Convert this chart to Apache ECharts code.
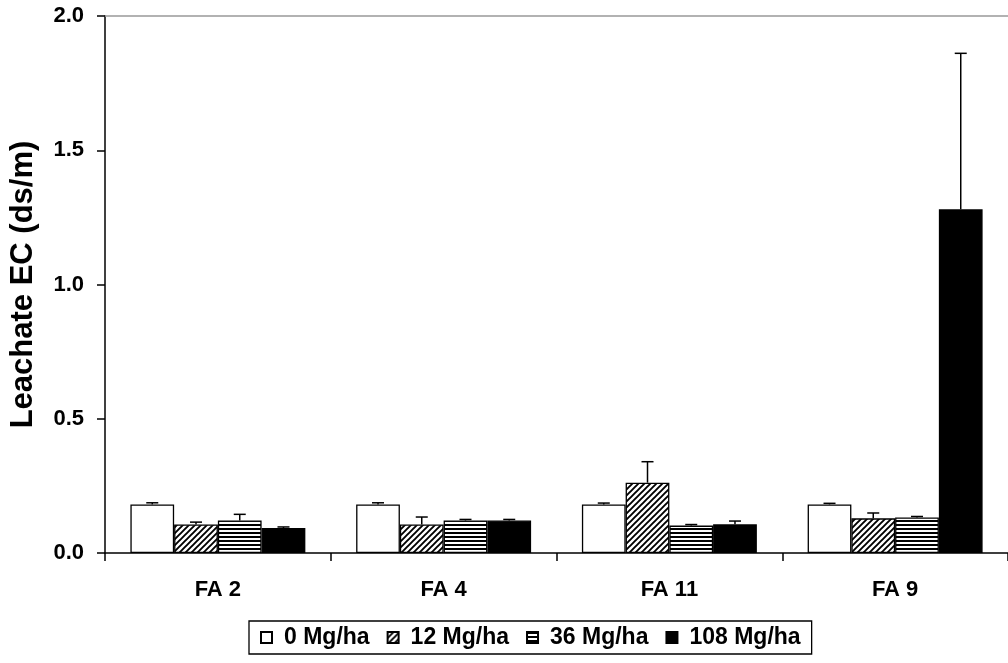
<!DOCTYPE html>
<html>
<head>
<meta charset="utf-8">
<script src="https://cdn.jsdelivr.net/npm/echarts@6/dist/echarts.min.js"></script>
<style>
  html, body { margin: 0; padding: 0; background: #fff; }
  #chart { width: 1008px; height: 663px; }
</style>
</head>
<body>
<div id="chart"></div>
<script>
// ========== data ==========
const categories = ['FA 2', 'FA 4', 'FA 11', 'FA 9']
const seriesNames = ['0 Mg/ha', '12 Mg/ha', '36 Mg/ha', '108 Mg/ha']

const rate0 = [0.181, 0.181, 0.181, 0.181]
const rate12 = [0.106, 0.106, 0.262, 0.129]
const rate36 = [0.121, 0.121, 0.102, 0.132]
const rate108 = [0.093, 0.121, 0.107, 1.28]

// upper error (standard error), only the plus side is drawn
const err0 = [0.006, 0.006, 0.005, 0.004]
const err12 = [0.009, 0.028, 0.078, 0.02]
const err36 = [0.023, 0.004, 0.004, 0.004]
const err108 = [0.004, 0.004, 0.012, 0.581]

const yTicks = [0, 0.5, 1.0, 1.5, 2.0]

const FONT = "'Liberation Sans', Arial, sans-serif"
const BAR_GAP_CAT = 0.225

// ========== fill patterns ==========
function hatchPattern() {
  const c = document.createElement('canvas')
  c.width = 6
  c.height = 6
  const ctx = c.getContext('2d')
  ctx.fillStyle = '#fff'
  ctx.fillRect(0, 0, 6, 6)
  ctx.strokeStyle = '#000'
  ctx.lineWidth = 1.9
  ctx.beginPath()
  ctx.moveTo(-1, 7); ctx.lineTo(7, -1)
  ctx.moveTo(-4, 4); ctx.lineTo(4, -4)
  ctx.moveTo(2, 10); ctx.lineTo(10, 2)
  ctx.stroke()
  return c
}

function stripePattern() {
  const c = document.createElement('canvas')
  c.width = 4
  c.height = 4
  const ctx = c.getContext('2d')
  ctx.fillStyle = '#fff'
  ctx.fillRect(0, 0, 4, 4)
  ctx.fillStyle = '#000'
  ctx.fillRect(0, 0, 4, 2)
  return c
}

const fills = [
  '#ffffff',
  { image: hatchPattern(), repeat: 'repeat' },
  { image: stripePattern(), repeat: 'repeat' },
  '#000000',
]

const values = [rate0, rate12, rate36, rate108]
const errors = [err0, err12, err36, err108]

// ========== error bars (custom series) ==========
function errorRender(seriesIdx) {
  return function (params, api) {
    const cat = api.value(0)
    const val = api.value(1)
    const err = api.value(2)
    const band = api.size([1, 0])[0]
    const barW = (band * (1 - BAR_GAP_CAT)) / 4
    const base = api.coord([cat, val])
    const x = base[0] - 2 * barW + (seriesIdx + 0.5) * barW
    const yTop = api.coord([cat, val + err])[1]
    const yBot = base[1]
    const half = 6
    return {
      type: 'group',
      children: [
        { type: 'line', shape: { x1: x, y1: yBot, x2: x, y2: yTop }, style: { stroke: '#000', lineWidth: 1.5 } },
        { type: 'line', shape: { x1: x - half, y1: yTop, x2: x + half, y2: yTop }, style: { stroke: '#000', lineWidth: 1.5 } },
      ],
    }
  }
}

const barSeries = seriesNames.map((name, i) => ({
  name,
  type: 'bar',
  data: values[i],
  barGap: 0,
  barCategoryGap: BAR_GAP_CAT * 100 + '%',
  itemStyle: { color: fills[i], borderColor: '#000', borderWidth: 1.3 },
  emphasis: { disabled: true },
  z: 2,
}))

const errSeries = seriesNames.map((name, i) => ({
  type: 'custom',
  renderItem: errorRender(i),
  data: values[i].map((v, k) => [k, v, errors[i][k]]),
  encode: { x: 0, y: 1 },
  z: 3,
  silent: true,
}))

// ========== chart ==========
const chart = echarts.init(document.getElementById('chart'), null, { renderer: 'canvas' })

chart.setOption({
  animation: false,
  textStyle: { fontFamily: FONT },
  grid: { left: 105, right: 0, top: 16, bottom: 110 },
  legend: {
    data: seriesNames,
    left: 249,
    top: 621,
    orient: 'horizontal',
    icon: 'rect',
    itemWidth: 11,
    itemHeight: 11,
    itemGap: 17,
    padding: [5, 11],
    borderColor: '#000',
    borderWidth: 1.3,
    selectedMode: false,
    textStyle: { fontFamily: FONT, fontSize: 23, fontWeight: 'bold', color: '#000', padding: [0, 0, 0, 7] },
  },
  xAxis: [
    {
      type: 'category',
      data: categories,
      position: 'bottom',
      axisLine: { lineStyle: { color: '#000', width: 1.5 } },
      axisTick: { show: true, length: 8, interval: 0, lineStyle: { color: '#000', width: 1.5 } },
      axisLabel: { margin: 26, fontSize: 22, fontWeight: 'bold', color: '#000', fontFamily: FONT },
      splitLine: { show: false },
    },
    {
      // thin grey frame line along the top of the plot
      type: 'category',
      data: categories,
      position: 'top',
      axisLine: { lineStyle: { color: '#999', width: 1.5 } },
      axisTick: { show: false },
      axisLabel: { show: false },
    },
  ],
  yAxis: {
    type: 'value',
    min: yTicks[0],
    max: yTicks[yTicks.length - 1],
    interval: 0.5,
    name: 'Leachate EC (ds/m)',
    nameLocation: 'middle',
    nameGap: 66,
    nameRotate: 90,
    nameTextStyle: { fontSize: 31, fontWeight: 'bold', color: '#000', fontFamily: FONT },
    axisLine: { show: true, lineStyle: { color: '#000', width: 1.5 } },
    axisTick: { show: true, length: 8, lineStyle: { color: '#000', width: 1.5 } },
    axisLabel: {
      margin: 21,
      fontSize: 22,
      fontWeight: 'bold',
      color: '#000',
      fontFamily: FONT,
      formatter: (v) => v.toFixed(1),
    },
    splitLine: { show: false },
  },
  series: [...barSeries, ...errSeries],
})
</script>
</body>
</html>
